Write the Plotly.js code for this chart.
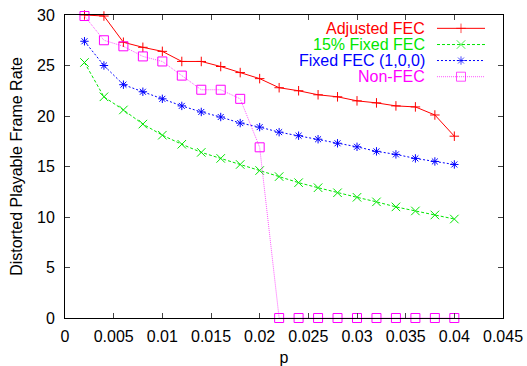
<!DOCTYPE html>
<html>
<head>
<meta charset="utf-8">
<script src="https://cdn.plot.ly/plotly-3.0.1.min.js"></script>
<style>html,body{margin:0;padding:0;background:#fff}#chart{width:527px;height:366px}</style>
</head>
<body>
<div id="chart"></div>
<script>
const p = [0.002,0.004,0.006,0.008,0.010,0.012,0.014,0.016,0.018,0.020,0.022,0.024,0.026,0.028,0.030,0.032,0.034,0.036,0.038,0.040];
const adjustedFEC = [30.0,29.9,27.3,26.8,26.4,25.4,25.4,24.9,24.3,23.7,22.8,22.5,22.1,21.9,21.5,21.3,21.0,20.9,20.1,18.0];
const fixed15FEC = [25.3,21.9,20.6,19.2,18.1,17.2,16.4,15.8,15.2,14.6,14.0,13.4,12.9,12.4,11.95,11.5,11.0,10.6,10.2,9.8];
const fixedFEC100 = [27.4,25.0,23.1,22.4,21.7,21.0,20.4,19.9,19.3,18.9,18.4,18.05,17.7,17.3,16.95,16.5,16.2,15.8,15.5,15.2];
const nonFEC = [29.9,27.5,26.9,25.9,25.4,24.0,22.6,22.6,21.7,16.9,0,0,0,0,0,0,0,0,0,0];
const seriesNames = ["Adjusted FEC","15% Fixed FEC","Fixed FEC (1,0,0)","Non-FEC"];
const xTicks = [0,0.005,0.01,0.015,0.02,0.025,0.03,0.035,0.04,0.045];
const xTickText = ["0","0.005","0.01","0.015","0.02","0.025","0.03","0.035","0.04","0.045"];
const yTicks = [0,5,10,15,20,25,30];

const font = "Liberation Sans, Arial, sans-serif";
const styles = [
  {color:'#ff0000', line:'#ff0000', dash:'solid', symbol:'cross-thin-open', size:6.8},
  {color:'#00e600', line:'#00e600', dash:'3px,2px', symbol:'x-thin-open', size:8.5},
  {color:'#0000ff', line:'#0000ff', dash:'2px,2px', symbol:'asterisk-open', size:7},
  {color:'#ff00ff', line:'#ff55ff', dash:'1px,1px', symbol:'square-open', size:9}
];
const series = [adjustedFEC, fixed15FEC, fixedFEC100, nonFEC];

const data = series.map((y, i) => ({
  x:p, y:y, name:seriesNames[i], type:'scatter', mode:'lines+markers', cliponaxis:false, showlegend:false,
  line:{color:styles[i].line, width:1, dash:styles[i].dash},
  marker:{symbol:styles[i].symbol, size:styles[i].size, color:styles[i].color, line:{color:styles[i].color, width:1}}
}));

// custom gnuplot-style key: text right-aligned, sample on the right
const keyRows = [0.956, 0.9025, 0.8497, 0.7964];
const keyTextX = 0.8265, keyX0 = 0.8493, keyXm = 0.9041, keyX1 = 0.9589;
const annotations = [];
seriesNames.forEach((n, i) => {
  annotations.push({xref:'paper', yref:'paper', x:keyTextX, y:keyRows[i], xanchor:'right', yanchor:'middle',
    text:n, showarrow:false, font:{family:font, size:16, color:styles[i].color}});
  data.push({x:[keyX0, keyXm, keyX1], y:[keyRows[i], keyRows[i], keyRows[i]], xaxis:'x2', yaxis:'y2',
    type:'scatter', mode:'lines+markers', showlegend:false, hoverinfo:'skip', cliponaxis:false,
    line:{color:styles[i].line, width:1, dash:styles[i].dash},
    marker:{symbol:styles[i].symbol, size:[0, styles[i].size, 0], color:styles[i].color, line:{color:styles[i].color, width:1}}});
});

const layout = {
  width:527, height:366,
  margin:{l:65, r:24, t:15, b:48},
  paper_bgcolor:'#fff', plot_bgcolor:'#fff',
  font:{family:font, size:16, color:'#000'},
  showlegend:false,
  annotations:annotations,
  xaxis:{range:[0,0.045], tickvals:xTicks, ticktext:xTickText, ticks:'inside', ticklen:5,
    showline:true, linecolor:'#000', linewidth:1, mirror:'ticks', showgrid:false, zeroline:false,
    tickfont:{family:font, size:16}, ticklabelstandoff:4,
    title:{text:'p', font:{family:font, size:16}, standoff:16}},
  yaxis:{range:[0,30], tickvals:yTicks, ticks:'inside', ticklen:5,
    showline:true, linecolor:'#000', linewidth:1, mirror:'ticks', showgrid:false, zeroline:false,
    tickfont:{family:font, size:16}, ticklabelstandoff:6,
    title:{text:'Distorted Playable Frame Rate', font:{family:font, size:16}, standoff:10}},
  xaxis2:{overlaying:'x', range:[0,1], visible:false, fixedrange:true},
  yaxis2:{overlaying:'y', range:[0,1], visible:false, fixedrange:true}
};
Plotly.newPlot('chart', data, layout, {displayModeBar:false, staticPlot:true});
</script>
</body>
</html>
